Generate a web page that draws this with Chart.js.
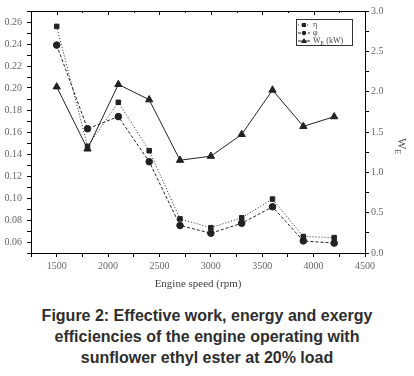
<!DOCTYPE html>
<html>
<head>
<meta charset="utf-8">
<script src="https://cdn.jsdelivr.net/npm/chart.js@4"></script>
<style>
  body { margin: 0; background: #fff; width: 414px; height: 376px; overflow: hidden; }
  #wrap { position: absolute; left: 0; top: 0; width: 414px; height: 300px; }
  #caption {
    position: absolute; left: 0; top: 305px; width: 414px;
    text-align: center; font: bold 16px "Liberation Sans", Arial, sans-serif;
    line-height: 21px; color: #2e2e2e;
  }
</style>
</head>
<body>
<div id="wrap"><canvas id="chart"></canvas></div>
<div id="caption">Figure 2: Effective work, energy and exergy<br>efficiencies of the engine operating with<br>sunflower ethyl ester at 20% load</div>
<script>
const rpm = [1500, 1800, 2100, 2400, 2700, 3000, 3300, 3600, 3900, 4200];
const eta = [0.256, 0.147, 0.187, 0.143, 0.081, 0.073, 0.082, 0.099, 0.065, 0.064];
const phi = [0.239, 0.163, 0.174, 0.133, 0.075, 0.068, 0.077, 0.092, 0.061, 0.059];
const workKW = [2.06, 1.29, 2.09, 1.90, 1.15, 1.20, 1.47, 2.02, 1.57, 1.69];

const xTicks = [1250, 1500, 1750, 2000, 2250, 2500, 2750, 3000, 3250, 3500, 3750, 4000, 4250, 4500];
const leftTicks = [0.05, 0.06, 0.07, 0.08, 0.09, 0.10, 0.11, 0.12, 0.13, 0.14, 0.15, 0.16, 0.17,
                   0.18, 0.19, 0.20, 0.21, 0.22, 0.23, 0.24, 0.25, 0.26, 0.27];
const rightTicks = [0, 0.25, 0.5, 0.75, 1.0, 1.25, 1.5, 1.75, 2.0, 2.25, 2.5, 2.75, 3.0];

const serif = '"Liberation Serif", "Times New Roman", serif';
const tickFont = { family: serif, size: 10 };
const ink = '#222';

// extra pieces: top frame with inward ticks, legend box, right axis title
const extras = {
  id: 'extras',
  afterDraw(chart) {
    const ctx = chart.ctx;
    const area = chart.chartArea;
    const x = chart.scales.x;
    ctx.save();
    ctx.strokeStyle = '#000';
    ctx.lineWidth = 1;
    ctx.beginPath();
    ctx.moveTo(area.left, area.top + 0.5);
    ctx.lineTo(area.right, area.top + 0.5);
    xTicks.forEach(v => {
      const px = Math.round(x.getPixelForValue(v)) + 0.5;
      ctx.moveTo(px, area.top);
      ctx.lineTo(px, area.top + (v % 500 === 0 ? 4 : 2));
    });
    ctx.stroke();

    // legend
    const lx = 296, ly = 19, lw = 56, lh = 26;
    ctx.strokeStyle = '#333';
    ctx.strokeRect(lx + 0.5, ly + 0.5, lw, lh);
    const items = [
      { label: 'η', dash: [1, 2], style: 'rect' },
      { label: 'φ', dash: [3, 2], style: 'circle' },
      { label: 'W', sub: 'E', tail: ' (kW)', dash: [], style: 'triangle' }
    ];
    ctx.font = '8px ' + serif;
    ctx.textBaseline = 'middle';
    items.forEach((it, i) => {
      const cy = ly + 6 + i * 8;
      ctx.strokeStyle = ink;
      ctx.setLineDash(it.dash);
      ctx.beginPath();
      ctx.moveTo(lx + 2, cy);
      ctx.lineTo(lx + 14, cy);
      ctx.stroke();
      ctx.setLineDash([]);
      ctx.fillStyle = ink;
      ctx.beginPath();
      if (it.style === 'rect') ctx.rect(lx + 6, cy - 2, 4, 4);
      else if (it.style === 'circle') ctx.arc(lx + 8, cy, 2.2, 0, Math.PI * 2);
      else { ctx.moveTo(lx + 8, cy - 3); ctx.lineTo(lx + 11, cy + 2); ctx.lineTo(lx + 5, cy + 2); ctx.closePath(); }
      ctx.fill();
      ctx.fillStyle = '#444';
      let tx = lx + 17;
      ctx.fillText(it.label, tx, cy);
      if (it.sub) {
        tx += ctx.measureText(it.label).width;
        ctx.font = '6px ' + serif;
        ctx.fillText(it.sub, tx, cy + 2);
        tx += ctx.measureText(it.sub).width;
        ctx.font = '8px ' + serif;
        ctx.fillText(it.tail, tx, cy);
      }
    });

    // right axis title, rotated clockwise
    ctx.translate(398, 138);
    ctx.rotate(Math.PI / 2);
    ctx.fillStyle = '#555';
    ctx.textBaseline = 'alphabetic';
    ctx.font = '12px ' + serif;
    ctx.fillText('W', 0, 0);
    const w = ctx.measureText('W').width;
    ctx.font = '8px ' + serif;
    ctx.fillText('E', w, 3);
    ctx.restore();
  }
};

new Chart(document.getElementById('chart'), {
  type: 'line',
  data: {
    labels: rpm,
    datasets: [
      {
        label: 'η', data: rpm.map((r, i) => ({ x: r, y: eta[i] })), yAxisID: 'y',
        borderColor: ink, backgroundColor: ink, borderWidth: 1, borderDash: [1, 2],
        pointStyle: 'rect', pointRadius: 3.2
      },
      {
        label: 'φ', data: rpm.map((r, i) => ({ x: r, y: phi[i] })), yAxisID: 'y',
        borderColor: ink, backgroundColor: ink, borderWidth: 1, borderDash: [3, 2],
        pointStyle: 'circle', pointRadius: 3.3
      },
      {
        label: 'WE (kW)', data: rpm.map((r, i) => ({ x: r, y: workKW[i] })), yAxisID: 'y1',
        borderColor: ink, backgroundColor: ink, borderWidth: 1,
        pointStyle: 'triangle', pointRadius: 4.2
      }
    ]
  },
  options: {
    responsive: true,
    maintainAspectRatio: false,
    animation: false,
    layout: { padding: { top: 5, left: 0, right: 0, bottom: 0 } },
    plugins: { legend: { display: false }, tooltip: { enabled: false } },
    scales: {
      x: {
        type: 'linear', min: 1250, max: 4500,
        afterBuildTicks: s => { s.ticks = xTicks.map(v => ({ value: v })); },
        afterFit: s => { s.height = 47; },
        grid: { drawOnChartArea: false, drawTicks: true, tickLength: 4, color: '#000' },
        border: { color: '#000' },
        ticks: {
          autoSkip: false, maxRotation: 0, padding: 3, color: '#666', font: tickFont,
          callback: v => (v % 500 === 0 ? String(v) : '')
        },
        title: {
          display: true, text: 'Engine speed (rpm)', color: '#444',
          font: { family: serif, size: 11 },
          padding: { top: 5, bottom: 9 }
        }
      },
      y: {
        position: 'left', min: 0.05, max: 0.27,
        afterBuildTicks: s => { s.ticks = leftTicks.map(v => ({ value: v })); },
        afterFit: s => { s.width = 31; },
        grid: { drawOnChartArea: false, drawTicks: true, tickLength: 4, color: '#000' },
        border: { color: '#000' },
        ticks: {
          autoSkip: false, padding: 5, color: '#666', font: tickFont,
          callback: v => {
            const k = Math.round(v * 100);
            return (k % 2 === 0 && k >= 6 && k <= 26) ? (k / 100).toFixed(2) : '';
          }
        }
      },
      y1: {
        position: 'right', min: 0, max: 3,
        afterBuildTicks: s => { s.ticks = rightTicks.map(v => ({ value: v })); },
        afterFit: s => { s.width = 49; },
        grid: { drawOnChartArea: false, drawTicks: true, tickLength: 4, color: '#000' },
        border: { color: '#000' },
        ticks: {
          autoSkip: false, padding: 2, color: '#666', font: tickFont,
          callback: v => (Math.round(v * 100) % 50 === 0 ? v.toFixed(1) : '')
        }
      }
    }
  },
  plugins: [extras]
});
</script>
</body>
</html>
